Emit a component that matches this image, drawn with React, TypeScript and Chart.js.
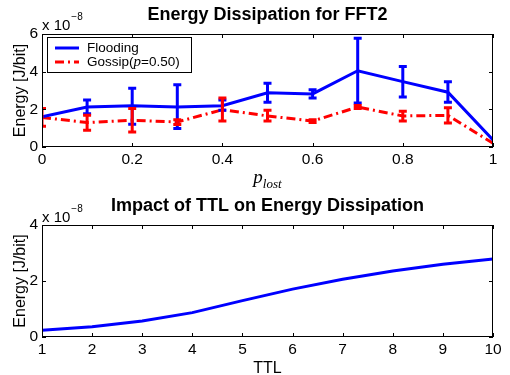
import React, { useEffect, useRef } from "react";
import { Chart, registerables } from "chart.js";

Chart.register(...registerables);

// ---------- data (energy values in units of 1e-8 J/bit) ----------
const pLost = [0, 0.1, 0.2, 0.3, 0.4, 0.5, 0.6, 0.7, 0.8, 0.9, 1.0];
const floodingMean = [1.6, 2.12, 2.19, 2.12, 2.19, 2.88, 2.82, 4.05, 3.47, 2.91, 0.37];
const floodingLow = [1.6, 1.77, 1.21, 0.98, 1.95, 2.38, 2.6, 2.33, 2.65, 2.38, 0.37];
const floodingHigh = [1.6, 2.5, 3.12, 3.3, 2.5, 3.38, 3.04, 5.77, 4.28, 3.47, 0.37];
const gossipMean = [1.57, 1.3, 1.42, 1.33, 1.98, 1.65, 1.38, 2.12, 1.65, 1.68, 0.2];
const gossipLow = [1.1, 0.89, 0.8, 1.2, 1.38, 1.38, 1.3, 2.05, 1.38, 1.28, 0.2];
const gossipHigh = [2.05, 1.68, 2.04, 1.45, 2.6, 1.95, 1.45, 2.2, 1.9, 2.09, 0.2];

const ttlValues = [1, 2, 3, 4, 5, 6, 7, 8, 9, 10];
const ttlEnergy = [0.24, 0.37, 0.57, 0.87, 1.3, 1.71, 2.06, 2.36, 2.6, 2.79];

const topTitle = "Energy Dissipation for FFT2";
const bottomTitle = "Impact of TTL on Energy Dissipation";
const yTitle = "Energy [J/bit]";
const legendLabels = ["Flooding", "Gossip("];

const SANS = "'Liberation Sans', Arial, Helvetica, sans-serif";
const SERIF = "'Liberation Serif', 'Times New Roman', serif";
const BLUE = "#0000ff";
const RED = "#ff0000";
const RED_DASH = [9, 4, 2, 4];

type Decor = {
  title: string;
  titleY: number;
  multY: number;
  xLabel: "plost" | string;
  xLabelY: number;
  legend: boolean;
};

function makeDecorPlugin(d: Decor, errors?: { low: number[]; high: number[]; color: string }[]) {
  return {
    id: "decor",
    afterDatasetsDraw(chart: any) {
      if (!errors) return;
      const ctx = chart.ctx;
      const ca = chart.chartArea;
      const xs = chart.scales.x;
      const ys = chart.scales.y;
      ctx.save();
      ctx.beginPath();
      ctx.rect(ca.left, ca.top, ca.right - ca.left, ca.bottom - ca.top);
      ctx.clip();
      errors.forEach((e) => {
        ctx.strokeStyle = e.color;
        ctx.lineWidth = 3;
        ctx.setLineDash([]);
        pLost.forEach((p, i) => {
          if (e.high[i] - e.low[i] < 0.01) return;
          const px = xs.getPixelForValue(p);
          const y1 = ys.getPixelForValue(e.low[i]);
          const y2 = ys.getPixelForValue(e.high[i]);
          ctx.beginPath();
          ctx.moveTo(px, y1);
          ctx.lineTo(px, y2);
          ctx.moveTo(px - 4, y1);
          ctx.lineTo(px + 4, y1);
          ctx.moveTo(px - 4, y2);
          ctx.lineTo(px + 4, y2);
          ctx.stroke();
        });
      });
      ctx.restore();
    },
    afterDraw(chart: any) {
      const ctx = chart.ctx;
      const ca = chart.chartArea;
      const xs = chart.scales.x;
      const ys = chart.scales.y;
      ctx.save();
      // frame
      ctx.strokeStyle = "#000";
      ctx.lineWidth = 1;
      ctx.setLineDash([]);
      ctx.strokeRect(ca.left + 0.5, ca.top + 0.5, ca.right - ca.left - 1, ca.bottom - ca.top - 1);
      // inward ticks
      const TL = 4;
      ctx.beginPath();
      xs.ticks.forEach((t: any) => {
        const px = Math.round(xs.getPixelForValue(t.value)) + 0.5;
        ctx.moveTo(px, ca.bottom);
        ctx.lineTo(px, ca.bottom - TL);
        ctx.moveTo(px, ca.top);
        ctx.lineTo(px, ca.top + TL);
      });
      ys.ticks.forEach((t: any) => {
        const py = Math.round(ys.getPixelForValue(t.value)) + 0.5;
        ctx.moveTo(ca.left, py);
        ctx.lineTo(ca.left + TL, py);
        ctx.moveTo(ca.right, py);
        ctx.lineTo(ca.right - TL, py);
      });
      ctx.stroke();

      ctx.fillStyle = "#000";
      // title
      ctx.font = `bold 18px ${SANS}`;
      ctx.textAlign = "center";
      ctx.textBaseline = "middle";
      const cx = (ca.left + ca.right) / 2;
      ctx.fillText(d.title, cx, d.titleY);

      // multiplier
      ctx.textAlign = "left";
      ctx.textBaseline = "alphabetic";
      ctx.font = `15px ${SANS}`;
      ctx.fillText("x 10", ca.left, d.multY);
      const w = ctx.measureText("x 10").width;
      ctx.font = `10px ${SANS}`;
      ctx.fillText("\u22128", ca.left + w + 1, d.multY - 10);

      // y title
      ctx.save();
      ctx.translate(21, (ca.top + ca.bottom) / 2);
      ctx.rotate(-Math.PI / 2);
      ctx.textAlign = "center";
      ctx.textBaseline = "middle";
      ctx.font = `16px ${SANS}`;
      ctx.fillText(yTitle, 0, 0);
      ctx.restore();

      // x title
      if (d.xLabel === "plost") {
        ctx.font = `italic 19px ${SERIF}`;
        const wp = ctx.measureText("p").width;
        ctx.font = `italic 13px ${SERIF}`;
        const wl = ctx.measureText("lost").width;
        const x0 = cx - (wp + wl) / 2;
        ctx.font = `italic 19px ${SERIF}`;
        ctx.fillText("p", x0, d.xLabelY);
        ctx.font = `italic 13px ${SERIF}`;
        ctx.fillText("lost", x0 + wp, d.xLabelY + 5);
      } else {
        ctx.textAlign = "center";
        ctx.font = `16px ${SANS}`;
        ctx.fillText(d.xLabel, cx, d.xLabelY);
      }

      // legend
      if (d.legend) {
        const lx = 47;
        const ly = 37;
        const lw = 144;
        const lh = 35;
        ctx.fillStyle = "#fff";
        ctx.fillRect(lx, ly, lw, lh);
        ctx.strokeStyle = "#000";
        ctx.lineWidth = 1;
        ctx.strokeRect(lx + 0.5, ly + 0.5, lw, lh);
        ctx.lineWidth = 3;
        ctx.strokeStyle = BLUE;
        ctx.beginPath();
        ctx.moveTo(55, 48);
        ctx.lineTo(79, 48);
        ctx.stroke();
        ctx.strokeStyle = RED;
        ctx.setLineDash(RED_DASH);
        ctx.beginPath();
        ctx.moveTo(55, 62);
        ctx.lineTo(79, 62);
        ctx.stroke();
        ctx.setLineDash([]);
        ctx.fillStyle = "#000";
        ctx.textAlign = "left";
        ctx.textBaseline = "middle";
        ctx.font = `13.5px ${SANS}`;
        ctx.fillText(legendLabels[0], 87, 48);
        let x = 87;
        ctx.fillText(legendLabels[1], x, 62);
        x += ctx.measureText(legendLabels[1]).width;
        ctx.font = `italic 15px ${SERIF}`;
        ctx.fillText("p", x, 62);
        x += ctx.measureText("p").width;
        ctx.font = `13.5px ${SANS}`;
        ctx.fillText("=0.50)", x, 62);
      }
      ctx.restore();
    },
  };
}

function baseScales(xMin: number, xMax: number, xStep: number, yMax: number, xHeight: number) {
  return {
    x: {
      type: "linear",
      min: xMin,
      max: xMax,
      grid: { display: false, drawTicks: false },
      border: { display: false },
      ticks: {
        stepSize: xStep,
        color: "#000",
        padding: 3,
        maxRotation: 0,
        font: { family: SANS, size: 15.5 },
        callback: (v: any) => String(Math.round(Number(v) * 10) / 10),
      },
      afterFit: (s: any) => {
        s.height = xHeight;
      },
    },
    y: {
      min: 0,
      max: yMax,
      grid: { display: false, drawTicks: false },
      border: { display: false },
      ticks: {
        stepSize: 2,
        color: "#000",
        padding: 4,
        font: { family: SANS, size: 15.5 },
      },
      afterFit: (s: any) => {
        s.width = 42;
      },
    },
  };
}

export default function App() {
  const topRef = useRef<HTMLCanvasElement | null>(null);
  const botRef = useRef<HTMLCanvasElement | null>(null);

  useEffect(() => {
    const top = new Chart(topRef.current as HTMLCanvasElement, {
      type: "line",
      data: {
        datasets: [
          {
            label: "Flooding",
            data: pLost.map((x, i) => ({ x, y: floodingMean[i] })),
            borderColor: BLUE,
            borderWidth: 3,
            pointRadius: 0,
            tension: 0,
          },
          {
            label: "Gossip(p=0.50)",
            data: pLost.map((x, i) => ({ x, y: gossipMean[i] })),
            borderColor: RED,
            borderWidth: 3,
            borderDash: RED_DASH,
            pointRadius: 0,
            tension: 0,
          },
        ],
      },
      options: {
        animation: false,
        responsive: false,
        devicePixelRatio: 1,
        layout: { padding: { top: 34, right: 17, left: 0, bottom: 0 } },
        plugins: { legend: { display: false }, title: { display: false }, tooltip: { enabled: false } },
        scales: baseScales(0, 1, 0.2, 6, 43) as any,
      },
      plugins: [
        makeDecorPlugin(
          { title: topTitle, titleY: 15, multY: 30, xLabel: "plost", xLabelY: 183, legend: true },
          [
            { low: floodingLow, high: floodingHigh, color: BLUE },
            { low: gossipLow, high: gossipHigh, color: RED },
          ]
        ) as any,
      ],
    });

    const bot = new Chart(botRef.current as HTMLCanvasElement, {
      type: "line",
      data: {
        datasets: [
          {
            label: "Energy",
            data: ttlValues.map((x, i) => ({ x, y: ttlEnergy[i] })),
            borderColor: BLUE,
            borderWidth: 3,
            pointRadius: 0,
            tension: 0,
          },
        ],
      },
      options: {
        animation: false,
        responsive: false,
        devicePixelRatio: 1,
        layout: { padding: { top: 35, right: 17, left: 0, bottom: 0 } },
        plugins: { legend: { display: false }, title: { display: false }, tooltip: { enabled: false } },
        scales: baseScales(1, 10, 1, 4, 38) as any,
      },
      plugins: [
        makeDecorPlugin({ title: bottomTitle, titleY: 16, multY: 31.5, xLabel: "TTL", xLabelY: 183, legend: false }) as any,
      ],
    });

    return () => {
      top.destroy();
      bot.destroy();
    };
  }, []);

  return (
    <div style={{ position: "absolute", left: 0, top: 0, width: 510, height: 375, background: "#fff" }}>
      <canvas ref={topRef} width={510} height={190} style={{ position: "absolute", left: 0, top: 0, display: "block" }} />
      <canvas ref={botRef} width={510} height={185} style={{ position: "absolute", left: 0, top: 190, display: "block" }} />
    </div>
  );
}
